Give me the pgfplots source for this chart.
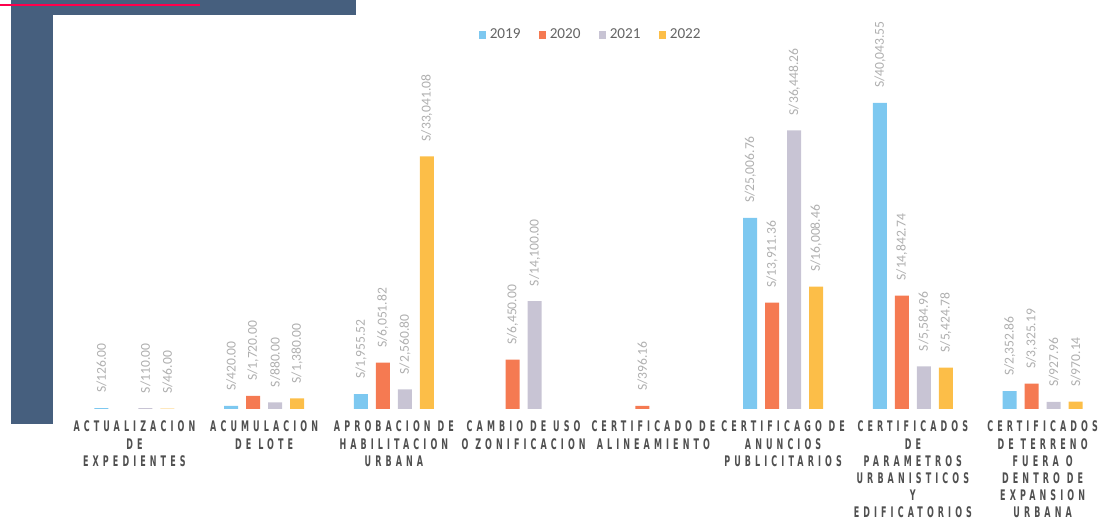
\documentclass[border=0pt]{standalone}
\usepackage{fontspec}
\setmainfont{Carlito}
\newfontfamily\catfont[FakeStretch=0.55, LetterSpace=28]{DejaVu Sans}
\usepackage{pgfplots}
\pgfplotsset{compat=1.18}

\definecolor{c2019}{RGB}{125,200,240}
\definecolor{c2020}{RGB}{245,122,82}
\definecolor{c2021}{RGB}{200,196,212}
\definecolor{c2022}{RGB}{252,190,72}
\definecolor{slate}{RGB}{70,95,126}
\definecolor{catgray}{RGB}{80,80,80}
\definecolor{valgray}{RGB}{175,175,175}
\definecolor{leggray}{RGB}{100,100,100}

\begin{document}
\begin{tikzpicture}
\useasboundingbox (0,0) rectangle (551pt,261.5pt);
% page decoration
\fill[slate] (5.5pt,261.5pt) rectangle (26.5pt,49.5pt);
\fill[slate] (5.5pt,261.5pt) rectangle (178pt,254pt);
\draw[red!70!magenta, line width=0.6pt] (0,259pt) -- (100pt,259pt);

\begin{axis}[
  at={(38pt,57pt)}, anchor=south west,
  scale only axis, width=512.5pt, height=172pt,
  xmin=-0.45, xmax=7.45, ymin=0, ymax=45000,
  clip=false,
  axis line style={draw=none},
  major tick length=0pt,
  ytick=\empty,
  xtick={0,...,7},
  xticklabels={ACTUALIZACION\\DE\\EXPEDIENTES,
    ACUMULACION\\DE LOTE,
    APROBACION DE\\HABILITACION\\URBANA,
    CAMBIO DE USO\\O ZONIFICACION,
    CERTIFICADO DE\\ALINEAMIENTO,
    CERTIFICAGO DE\\ANUNCIOS\\PUBLICITARIOS,
    CERTIFICADOS\\DE\\PARAMETROS\\URBANISTICOS\\Y\\EDIFICATORIOS,
    CERTIFICADOS\\DE TERRENO\\FUERA O\\DENTRO DE\\EXPANSION\\URBANA},
  xticklabel style={font=\catfont\bfseries\fontsize{7.3}{8.6}\selectfont, text=catgray, align=center, anchor=north, yshift=-2.5pt},
  ybar, bar width=0.108,
  /pgf/number format/assume math mode=true,
  /pgf/number format/fixed,
  /pgf/number format/fixed zerofill,
  /pgf/number format/precision=2,
  /pgf/number format/1000 sep={,},
  nodes near coords={S/\pgfmathprintnumber{\pgfplotspointmeta}},
  nodes near coords style={rotate=90, anchor=west, xshift=4pt, font=\fontsize{6.8}{7}\selectfont, text=valgray},
  legend style={at={(0.503,1.087)}, anchor=center, draw=none, fill=none, legend columns=4,
    font=\fontsize{7.6}{9}\selectfont, text=leggray,
    /tikz/every even column/.append style={column sep=7pt}},
  legend image code/.code={\fill[#1] (0pt,-1.8pt) rectangle (3.6pt,1.8pt);},
]
\addplot[fill=c2019, draw=none, bar shift=-0.254] coordinates {(0,126) (1,420) (2,1955.52) (5,25006.76) (6,40043.55) (7,2352.86)};
\addplot[fill=c2020, draw=none, bar shift=-0.085] coordinates {(1,1720) (2,6051.82) (3,6450) (4,396.16) (5,13911.36) (6,14842.74) (7,3325.19)};
\addplot[fill=c2021, draw=none, bar shift=0.085] coordinates {(0,110) (1,880) (2,2560.80) (3,14100) (5,36448.26) (6,5584.96) (7,927.96)};
\addplot[fill=c2022, draw=none, bar shift=0.254] coordinates {(0,46) (1,1380) (2,33041.08) (5,16008.46) (6,5424.78) (7,970.14)};
\legend{2019,2020,2021,2022}
\end{axis}
\end{tikzpicture}
\end{document}
